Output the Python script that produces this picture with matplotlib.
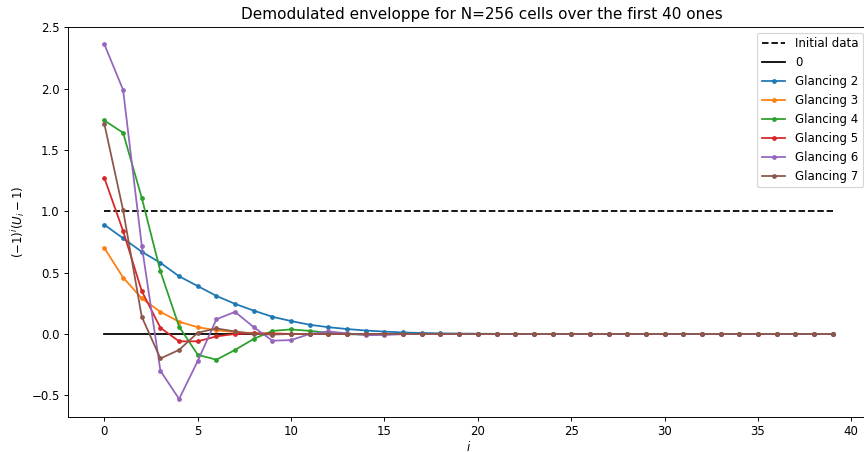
import numpy as np
import matplotlib.pyplot as plt

n = 40
i = np.arange(n)

g2 = [0.89, 0.78, 0.67, 0.58, 0.47, 0.39, 0.31, 0.245, 0.19, 0.14, 0.105, 0.075,
      0.055, 0.04, 0.028, 0.019, 0.012, 0.008, 0.005, 0.003, 0.002, 0.001]
g3 = [0.70, 0.46, 0.29, 0.18, 0.10, 0.055, 0.03, 0.015, 0.007, 0.003, 0.001]
g4 = [1.74, 1.64, 1.11, 0.51, 0.06, -0.17, -0.21, -0.13, -0.04, 0.025, 0.037, 0.025,
      0.01, -0.003, -0.004, -0.002]
g5 = [1.27, 0.84, 0.35, 0.05, -0.06, -0.06, -0.02, 0.0, 0.005, 0.003]
g6 = [2.36, 1.99, 0.72, -0.30, -0.53, -0.22, 0.12, 0.18, 0.055, -0.055, -0.05, 0.0,
      0.02, 0.005, -0.01, -0.008, -0.002]
g7 = [1.71, 1.01, 0.14, -0.20, -0.13, 0.01, 0.045, 0.02, 0.0, -0.005, 0.0]

series = [g2, g3, g4, g5, g6, g7]
names = ["Glancing 2", "Glancing 3", "Glancing 4", "Glancing 5", "Glancing 6", "Glancing 7"]

DPI = 85
# 864x452 pixels, drawn at a lower dpi so text is smaller
fig = plt.figure(figsize=(864/DPI, 452/DPI), dpi=DPI)
# axes run a bit past the right edge, like the cropped original
ax = fig.add_axes([68/864, 1-416.7/452, (869-68)/864, (416.7-26.7)/452])

ax.plot(i, np.ones(n), 'k--', label="Initial data")
ax.plot(i, np.zeros(n), 'k-', label="0")
for vals, name in zip(series, names):
    y = np.zeros(n)
    y[:len(vals)] = vals
    ax.plot(i, y, '.-', label=name)

# title sits a little right of the axes centre in the original
fig.suptitle("Demodulated enveloppe for N=256 cells over the first 40 ones",
             fontsize=12.9, x=482/864, y=1-14/452, va='center')
ax.set_xlabel("$i$", labelpad=1.5)
ax.set_ylabel("$(-1)^i(U_i-1)$")
ax.legend(loc="upper right")
plt.savefig("out.png", dpi=DPI)
